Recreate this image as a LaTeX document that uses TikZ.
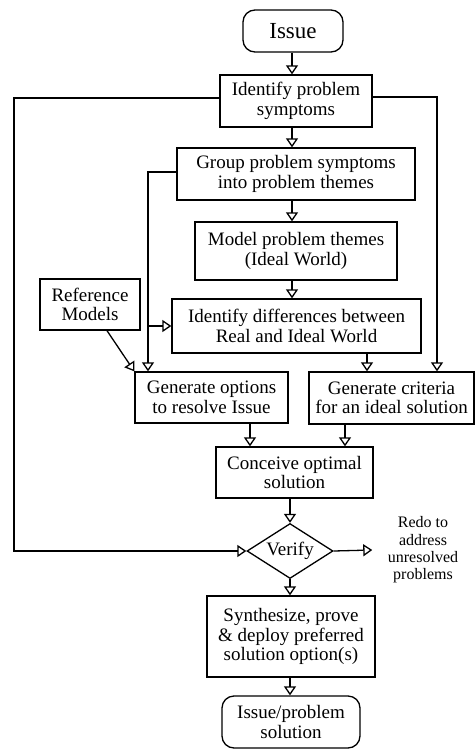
\documentclass[tikz,border=0pt]{standalone}
\usepackage{fontspec}
\setmainfont{Liberation Serif}
\usetikzlibrary{arrows.meta,shapes.geometric}

\begin{document}
\begin{tikzpicture}[x=1pt, y=-1pt, line width=1.3pt,
    >={Triangle[open,length=9pt,width=12pt]},
    box/.style={draw, align=center, inner sep=0pt, font=\fontsize{19}{19.5}\selectfont},
    terminal/.style={box, rounded corners=12pt},
    decision/.style={draw, diamond, aspect=1.56, inner sep=0pt, minimum width=86pt,
        minimum height=55pt, font=\fontsize{19}{19.5}\selectfont},
    note/.style={align=center, inner ysep=0pt, inner xsep=15pt, font=\fontsize{16}{17.3}\selectfont}]
    \useasboundingbox (0,0) rectangle (475,749);

    % Nodes
    \node [terminal, minimum width=100pt, minimum height=42pt, font=\fontsize{23}{24}\selectfont]
                            (issue)     at (293,31)    {Issue};
    \node [box, minimum width=152pt, minimum height=52pt]
                            (symptoms)  at (296,101)   {Identify problem\\symptoms};
    \node [box, minimum width=238pt, minimum height=52pt]
                            (group)     at (296,174)   {Group problem symptoms\\into problem themes};
    \node [box, minimum width=202pt, minimum height=58pt]
                            (model)     at (296,251)   {Model problem themes\\(Ideal World)};
    \node [box, minimum width=249pt, minimum height=54pt]
                            (diffs)     at (296.5,326) {Identify differences between\\Real and Ideal World};
    \node [box, minimum width=100pt, minimum height=51pt]
                            (refmodels) at (90,304.5)  {Reference\\Models};
    \node [box, minimum width=153pt, minimum height=51pt]
                            (options)   at (211.5,397.5) {Generate options\\to resolve Issue};
    \node [box, minimum width=165pt, minimum height=52pt]
                            (criteria)  at (391.5,398) {Generate criteria\\for an ideal solution};
    \node [box, minimum width=157pt, minimum height=51pt]
                            (conceive)  at (294.5,472.5) {Conceive optimal\\solution};
    \node [decision]        (verify)    at (290,551)   {Verify};
    \node [note]            (redo)      at (423,550)   {Redo to\\address\\unresolved\\problems};
    \node [box, minimum width=168pt, minimum height=81pt]
                            (synth)     at (291,636.5) {Synthesize, prove\\\& deploy preferred\\solution option(s)};
    \node [terminal, minimum width=138pt, minimum height=52pt]
                            (solution)  at (291,722)   {Issue/problem\\solution};

    % Rails
    \coordinate (spine)     at (292,0);
    \coordinate (leftrail)  at (14,0);
    \coordinate (grouprail) at (148,0);
    \coordinate (rightrail) at (437,0);
    \coordinate (diffdrop)  at (367,0);
    \coordinate (optdrop)   at (250,0);
    \coordinate (critdrop)  at (345,0);

    % Paths
    \draw [->] (spine |- issue.south)    -- (spine |- symptoms.north);
    \draw [->] (spine |- symptoms.south) -- (spine |- group.north);
    \draw [->] (spine |- group.south)    -- (spine |- model.north);
    \draw [->] (spine |- model.south)    -- (spine |- diffs.north);
    \draw [->] (diffdrop |- diffs.south) -- (diffdrop |- criteria.north);
    \draw [->] (optdrop |- options.south)   -- (optdrop |- conceive.north);
    \draw [->] (critdrop |- criteria.south) -- (critdrop |- conceive.north);
    \draw [->] (verify |- conceive.south) -- (verify.north);
    \draw [->] (verify.south)            -- (verify |- synth.north);
    \draw [->] (verify |- synth.south)   -- (verify |- solution.north);
    \draw [->] (verify.east)             -- (redo.west);
    \draw [->] ([xshift=17pt]refmodels.south) -- (options.north west);

    % Feedback lines
    \draw [->] ([yshift=3pt]symptoms.west) -- ([yshift=3pt]symptoms.west -| leftrail)
        |- (verify.west);
    \draw [->] ([yshift=4pt]symptoms.east) -- ([yshift=4pt]symptoms.east -| rightrail)
        -- (rightrail |- criteria.north);
    \draw [->] ([yshift=2pt]group.west) -- ([yshift=2pt]group.west -| grouprail)
        -- (grouprail |- options.north);
    \draw [->] (grouprail |- diffs.west) -- (diffs.west);

\end{tikzpicture}
\end{document}
